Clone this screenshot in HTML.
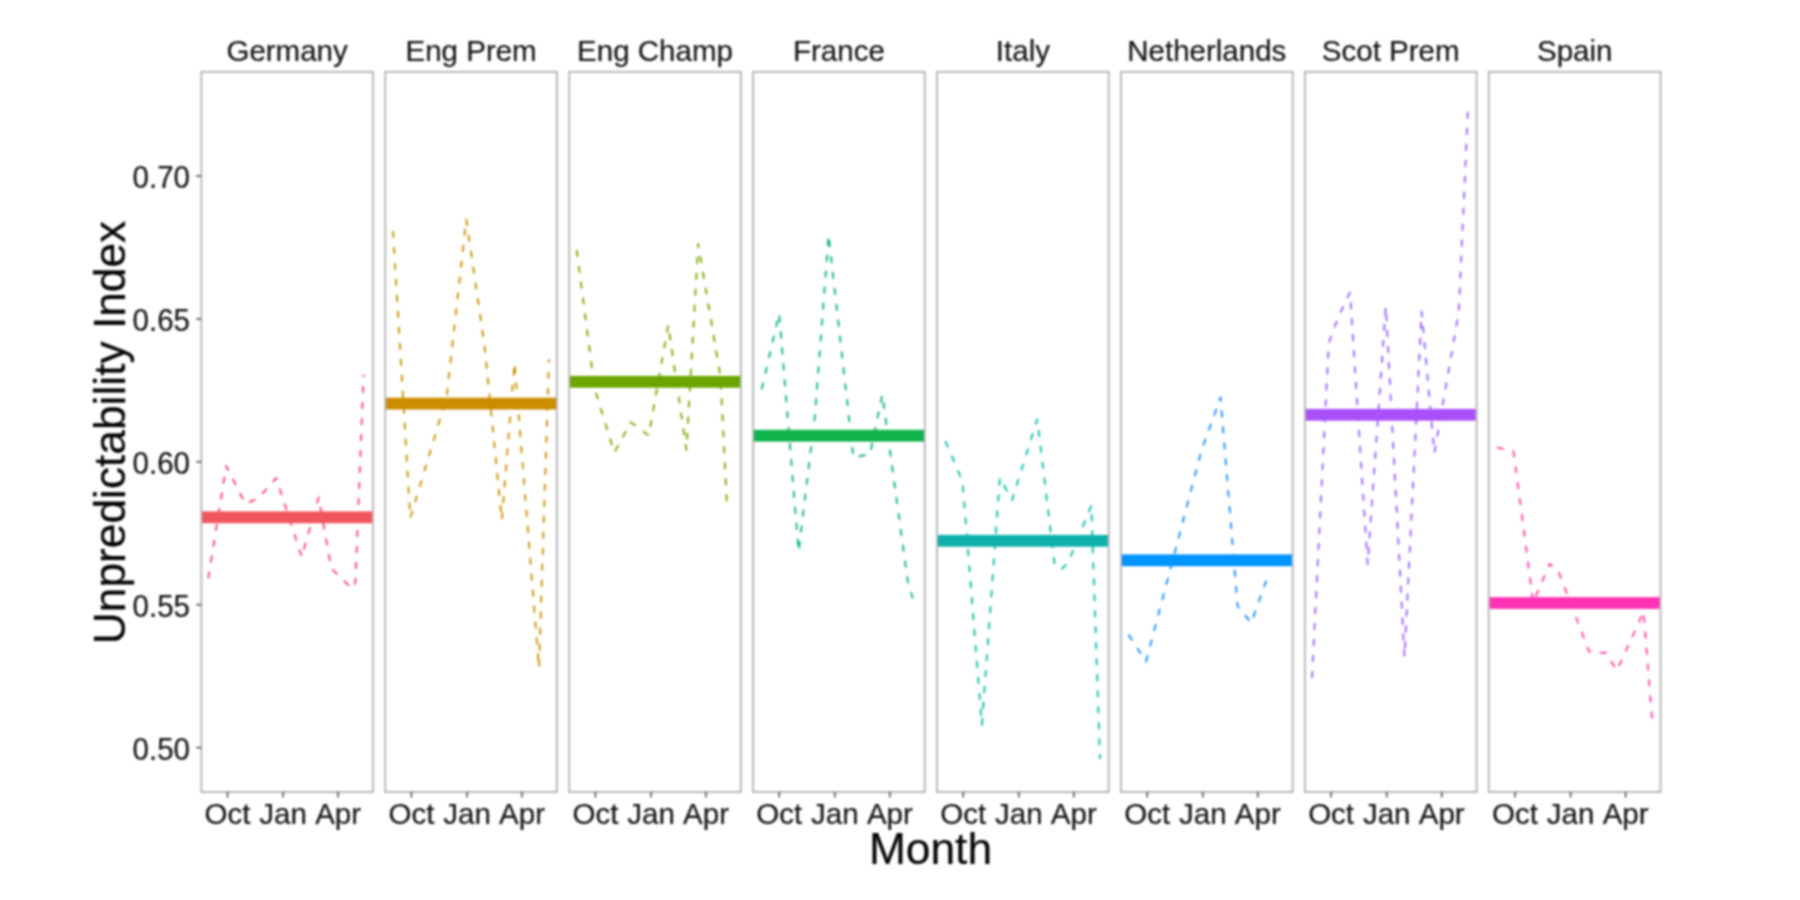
<!DOCTYPE html>
<html><head><meta charset="utf-8"><title>Unpredictability Index</title>
<style>
html,body{margin:0;padding:0;background:#fff;}
body{width:1800px;height:900px;overflow:hidden;font-family:"Liberation Sans",sans-serif;}
svg{display:block;filter:blur(0.9px);}
text{font-family:"Liberation Sans",sans-serif;fill:#141414;stroke:#141414;stroke-width:0.2px;}
.t{font-size:29.5px;}
.b{font-size:44.3px;fill:#050505;stroke:#050505;stroke-width:0.2px;}
.dl{fill:none;stroke-width:1.9;stroke-dasharray:7 9;stroke-linejoin:round;}
</style></head><body>
<svg width="1800" height="900" viewBox="0 0 1800 900">
<rect x="0" y="0" width="1800" height="900" fill="#ffffff"/>

<text class="t" transform="translate(287.1,61) scale(1,1.0)" text-anchor="middle">Germany</text>
<polyline class="dl" stroke="#F94A70" points="208.3,578.3 226.2,466.0 245.3,503.7 258.0,498.5 276.3,478.0 301.7,557.0 318.7,497.3 331.3,568.5 352.1,588.6 355.4,582.5 363.6,374.7"/>
<rect x="201.3" y="511.4" width="171.7" height="11.8" fill="#F2555A"/>
<rect x="201.3" y="71.9" width="171.7" height="720.1" fill="none" stroke="#B8B8B8" stroke-width="2"/>
<line x1="227.5" y1="792.0" x2="227.5" y2="797.6" stroke="#333" stroke-width="1.35"/>
<text class="t" transform="translate(227.5,824) scale(1,1.0)" text-anchor="middle">Oct</text>
<line x1="283.1" y1="792.0" x2="283.1" y2="797.6" stroke="#333" stroke-width="1.35"/>
<text class="t" transform="translate(283.1,824) scale(1,1.0)" text-anchor="middle">Jan</text>
<line x1="338.1" y1="792.0" x2="338.1" y2="797.6" stroke="#333" stroke-width="1.35"/>
<text class="t" transform="translate(338.1,824) scale(1,1.0)" text-anchor="middle">Apr</text>
<text class="t" transform="translate(471.1,61) scale(1,1.0)" text-anchor="middle">Eng Prem</text>
<polyline class="dl" stroke="#C99200" points="393.0,231.0 410.3,518.0 446.6,397.0 466.3,219.5 484.5,345.0 501.8,520.0 514.5,363.0 539.0,668.0 549.0,359.5"/>
<rect x="385.2" y="397.7" width="171.7" height="11.8" fill="#CC8C00"/>
<rect x="385.2" y="71.9" width="171.7" height="720.1" fill="none" stroke="#B8B8B8" stroke-width="2"/>
<line x1="411.4" y1="792.0" x2="411.4" y2="797.6" stroke="#333" stroke-width="1.35"/>
<text class="t" transform="translate(411.4,824) scale(1,1.0)" text-anchor="middle">Oct</text>
<line x1="467.0" y1="792.0" x2="467.0" y2="797.6" stroke="#333" stroke-width="1.35"/>
<text class="t" transform="translate(467.0,824) scale(1,1.0)" text-anchor="middle">Jan</text>
<line x1="522.0" y1="792.0" x2="522.0" y2="797.6" stroke="#333" stroke-width="1.35"/>
<text class="t" transform="translate(522.0,824) scale(1,1.0)" text-anchor="middle">Apr</text>
<text class="t" transform="translate(655.0,61) scale(1,1.0)" text-anchor="middle">Eng Champ</text>
<polyline class="dl" stroke="#7CAA00" points="576.7,250.0 594.5,388.0 614.3,452.5 630.8,422.3 648.8,435.5 668.2,325.0 686.4,449.8 698.2,244.0 720.5,377.0 727.0,507.0"/>
<rect x="569.2" y="375.9" width="171.7" height="11.8" fill="#6AA500"/>
<rect x="569.2" y="71.9" width="171.7" height="720.1" fill="none" stroke="#B8B8B8" stroke-width="2"/>
<line x1="595.4" y1="792.0" x2="595.4" y2="797.6" stroke="#333" stroke-width="1.35"/>
<text class="t" transform="translate(595.4,824) scale(1,1.0)" text-anchor="middle">Oct</text>
<line x1="651.0" y1="792.0" x2="651.0" y2="797.6" stroke="#333" stroke-width="1.35"/>
<text class="t" transform="translate(651.0,824) scale(1,1.0)" text-anchor="middle">Jan</text>
<line x1="706.0" y1="792.0" x2="706.0" y2="797.6" stroke="#333" stroke-width="1.35"/>
<text class="t" transform="translate(706.0,824) scale(1,1.0)" text-anchor="middle">Apr</text>
<text class="t" transform="translate(838.9,61) scale(1,1.0)" text-anchor="middle">France</text>
<polyline class="dl" stroke="#0FB870" points="761.7,389.3 779.2,313.4 798.6,551.5 815.0,415.0 828.6,235.0 853.4,457.5 870.0,454.0 882.3,394.5 907.8,581.5 912.8,598.5"/>
<rect x="753.1" y="429.8" width="171.7" height="11.8" fill="#10B44C"/>
<rect x="753.1" y="71.9" width="171.7" height="720.1" fill="none" stroke="#B8B8B8" stroke-width="2"/>
<line x1="779.3" y1="792.0" x2="779.3" y2="797.6" stroke="#333" stroke-width="1.35"/>
<text class="t" transform="translate(779.3,824) scale(1,1.0)" text-anchor="middle">Oct</text>
<line x1="834.9" y1="792.0" x2="834.9" y2="797.6" stroke="#333" stroke-width="1.35"/>
<text class="t" transform="translate(834.9,824) scale(1,1.0)" text-anchor="middle">Jan</text>
<line x1="889.9" y1="792.0" x2="889.9" y2="797.6" stroke="#333" stroke-width="1.35"/>
<text class="t" transform="translate(889.9,824) scale(1,1.0)" text-anchor="middle">Apr</text>
<text class="t" transform="translate(1022.9,61) scale(1,1.0)" text-anchor="middle">Italy</text>
<polyline class="dl" stroke="#0DBFA6" points="945.3,441.0 962.5,481.5 981.9,724.8 999.9,477.8 1012.0,500.0 1037.3,419.5 1054.6,564.5 1061.0,569.5 1068.0,563.0 1091.3,505.5 1100.0,759.0"/>
<rect x="937.0" y="534.9" width="171.7" height="11.8" fill="#0DB0AA"/>
<rect x="937.0" y="71.9" width="171.7" height="720.1" fill="none" stroke="#B8B8B8" stroke-width="2"/>
<line x1="963.2" y1="792.0" x2="963.2" y2="797.6" stroke="#333" stroke-width="1.35"/>
<text class="t" transform="translate(963.2,824) scale(1,1.0)" text-anchor="middle">Oct</text>
<line x1="1018.8" y1="792.0" x2="1018.8" y2="797.6" stroke="#333" stroke-width="1.35"/>
<text class="t" transform="translate(1018.8,824) scale(1,1.0)" text-anchor="middle">Jan</text>
<line x1="1073.8" y1="792.0" x2="1073.8" y2="797.6" stroke="#333" stroke-width="1.35"/>
<text class="t" transform="translate(1073.8,824) scale(1,1.0)" text-anchor="middle">Apr</text>
<text class="t" transform="translate(1206.8,61) scale(1,1.0)" text-anchor="middle">Netherlands</text>
<polyline class="dl" stroke="#1E90FF" points="1128.5,634.5 1146.0,661.7 1201.5,450.5 1220.5,397.5 1237.6,606.0 1251.2,623.0 1269.3,572.0"/>
<rect x="1121.0" y="554.4" width="171.7" height="11.8" fill="#0094FF"/>
<rect x="1121.0" y="71.9" width="171.7" height="720.1" fill="none" stroke="#B8B8B8" stroke-width="2"/>
<line x1="1147.2" y1="792.0" x2="1147.2" y2="797.6" stroke="#333" stroke-width="1.35"/>
<text class="t" transform="translate(1147.2,824) scale(1,1.0)" text-anchor="middle">Oct</text>
<line x1="1202.8" y1="792.0" x2="1202.8" y2="797.6" stroke="#333" stroke-width="1.35"/>
<text class="t" transform="translate(1202.8,824) scale(1,1.0)" text-anchor="middle">Jan</text>
<line x1="1257.8" y1="792.0" x2="1257.8" y2="797.6" stroke="#333" stroke-width="1.35"/>
<text class="t" transform="translate(1257.8,824) scale(1,1.0)" text-anchor="middle">Apr</text>
<text class="t" transform="translate(1390.7,61) scale(1,1.0)" text-anchor="middle">Scot Prem</text>
<polyline class="dl" stroke="#9A66FF" points="1312.0,678.0 1328.8,343.0 1338.5,316.5 1350.0,292.5 1367.6,564.0 1385.8,306.5 1404.5,657.0 1421.6,311.5 1434.4,453.0 1458.8,312.0 1468.0,108.0"/>
<rect x="1304.9" y="408.9" width="171.7" height="11.8" fill="#AA50FA"/>
<rect x="1304.9" y="71.9" width="171.7" height="720.1" fill="none" stroke="#B8B8B8" stroke-width="2"/>
<line x1="1331.1" y1="792.0" x2="1331.1" y2="797.6" stroke="#333" stroke-width="1.35"/>
<text class="t" transform="translate(1331.1,824) scale(1,1.0)" text-anchor="middle">Oct</text>
<line x1="1386.7" y1="792.0" x2="1386.7" y2="797.6" stroke="#333" stroke-width="1.35"/>
<text class="t" transform="translate(1386.7,824) scale(1,1.0)" text-anchor="middle">Jan</text>
<line x1="1441.7" y1="792.0" x2="1441.7" y2="797.6" stroke="#333" stroke-width="1.35"/>
<text class="t" transform="translate(1441.7,824) scale(1,1.0)" text-anchor="middle">Apr</text>
<text class="t" transform="translate(1574.7,61) scale(1,1.0)" text-anchor="middle">Spain</text>
<polyline class="dl" stroke="#FF46A0" points="1497.0,447.5 1513.6,451.5 1533.2,602.5 1549.6,564.0 1557.5,568.8 1589.0,651.5 1597.8,653.3 1605.8,652.5 1616.8,670.5 1638.6,623.0 1643.5,611.5 1652.1,718.9"/>
<rect x="1488.8" y="597.1" width="171.7" height="11.8" fill="#FF32B4"/>
<rect x="1488.8" y="71.9" width="171.7" height="720.1" fill="none" stroke="#B8B8B8" stroke-width="2"/>
<line x1="1515.0" y1="792.0" x2="1515.0" y2="797.6" stroke="#333" stroke-width="1.35"/>
<text class="t" transform="translate(1515.0,824) scale(1,1.0)" text-anchor="middle">Oct</text>
<line x1="1570.6" y1="792.0" x2="1570.6" y2="797.6" stroke="#333" stroke-width="1.35"/>
<text class="t" transform="translate(1570.6,824) scale(1,1.0)" text-anchor="middle">Jan</text>
<line x1="1625.6" y1="792.0" x2="1625.6" y2="797.6" stroke="#333" stroke-width="1.35"/>
<text class="t" transform="translate(1625.6,824) scale(1,1.0)" text-anchor="middle">Apr</text>
<line x1="196.2" y1="176.0" x2="201.3" y2="176.0" stroke="#333" stroke-width="1.35"/>
<text class="t" transform="translate(190,188.2) scale(1,1.08)" text-anchor="end">0.70</text>
<line x1="196.2" y1="318.9" x2="201.3" y2="318.9" stroke="#333" stroke-width="1.35"/>
<text class="t" transform="translate(190,331.1) scale(1,1.08)" text-anchor="end">0.65</text>
<line x1="196.2" y1="461.8" x2="201.3" y2="461.8" stroke="#333" stroke-width="1.35"/>
<text class="t" transform="translate(190,474.0) scale(1,1.08)" text-anchor="end">0.60</text>
<line x1="196.2" y1="604.7" x2="201.3" y2="604.7" stroke="#333" stroke-width="1.35"/>
<text class="t" transform="translate(190,616.9) scale(1,1.08)" text-anchor="end">0.55</text>
<line x1="196.2" y1="747.6" x2="201.3" y2="747.6" stroke="#333" stroke-width="1.35"/>
<text class="t" transform="translate(190,759.8) scale(1,1.08)" text-anchor="end">0.50</text>
<text class="b" transform="translate(930.5,864.3) scale(1,1.0)" text-anchor="middle">Month</text>
<text class="b" transform="translate(124.8,432.5) rotate(-90) scale(1,1.0)" text-anchor="middle">Unpredictability Index</text>
</svg></body></html>
